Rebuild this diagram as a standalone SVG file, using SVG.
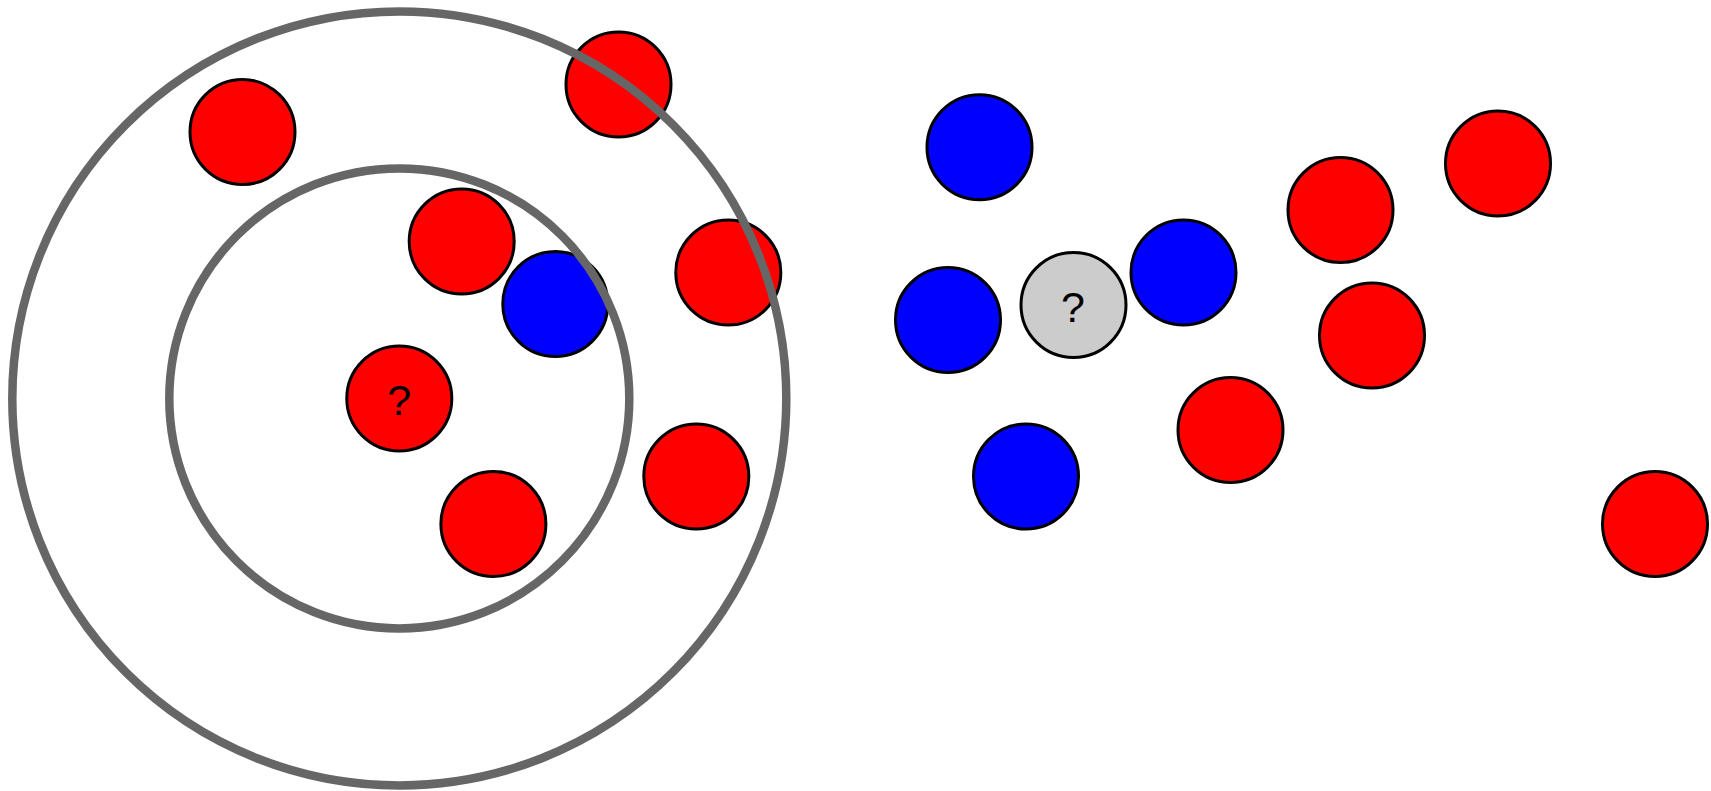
<svg xmlns="http://www.w3.org/2000/svg" width="1711" height="791" viewBox="0 0 1711 791">
<style>
.n{stroke:#000;stroke-width:3}
.r{fill:#ff0000}
.b{fill:#0000ff}
.g{fill:#cccccc}
.ring{fill:none;stroke:#666666;stroke-width:8.5}
.q{font-family:"Liberation Sans",Arial,sans-serif;font-size:43px;fill:#000;text-anchor:middle}
</style>
<rect width="1711" height="791" fill="#ffffff"/>
<g id="nodes-left">
<g id="n1"><circle class="n r" cx="242.5" cy="132" r="52.5"/></g>
<g id="n2"><circle class="n r" cx="618.5" cy="84.5" r="52.5"/></g>
<g id="n3"><circle class="n r" cx="461.7" cy="241.5" r="52.5"/></g>
<g id="n4"><circle class="n b" cx="555.3" cy="304" r="52.5"/></g>
<g id="n5"><circle class="n r" cx="728.3" cy="272.5" r="52.5"/></g>
<g id="n6"><circle class="n r" cx="399.3" cy="398.5" r="52.5"/><text class="q" x="399.3" y="414.5">?</text></g>
<g id="n7"><circle class="n r" cx="493.4" cy="524" r="52.5"/></g>
<g id="n8"><circle class="n r" cx="696.3" cy="476.5" r="52.5"/></g>
</g>
<g id="rings">
<circle class="ring" cx="399.3" cy="398.4" r="387"/>
<circle class="ring" cx="399.3" cy="398.4" r="230"/>
</g>
<g id="nodes-right">
<g id="m1"><circle class="n b" cx="979.5" cy="147.3" r="52.5"/></g>
<g id="m2"><circle class="n r" cx="1340.5" cy="210" r="52.5"/></g>
<g id="m3"><circle class="n r" cx="1498" cy="163.5" r="52.5"/></g>
<g id="m4"><circle class="n b" cx="948" cy="320" r="52.5"/></g>
<g id="m5"><circle class="n g" cx="1073.5" cy="305" r="52.5"/><text class="q" x="1073" y="321.5">?</text></g>
<g id="m6"><circle class="n b" cx="1183.5" cy="272.5" r="52.5"/></g>
<g id="m7"><circle class="n r" cx="1372" cy="335.5" r="52.5"/></g>
<g id="m8"><circle class="n r" cx="1230.5" cy="430" r="52.5"/></g>
<g id="m9"><circle class="n b" cx="1026" cy="476.5" r="52.5"/></g>
<g id="m10"><circle class="n r" cx="1655" cy="524" r="52.5"/></g>
</g>
<g id="connectors"></g>
</svg>
